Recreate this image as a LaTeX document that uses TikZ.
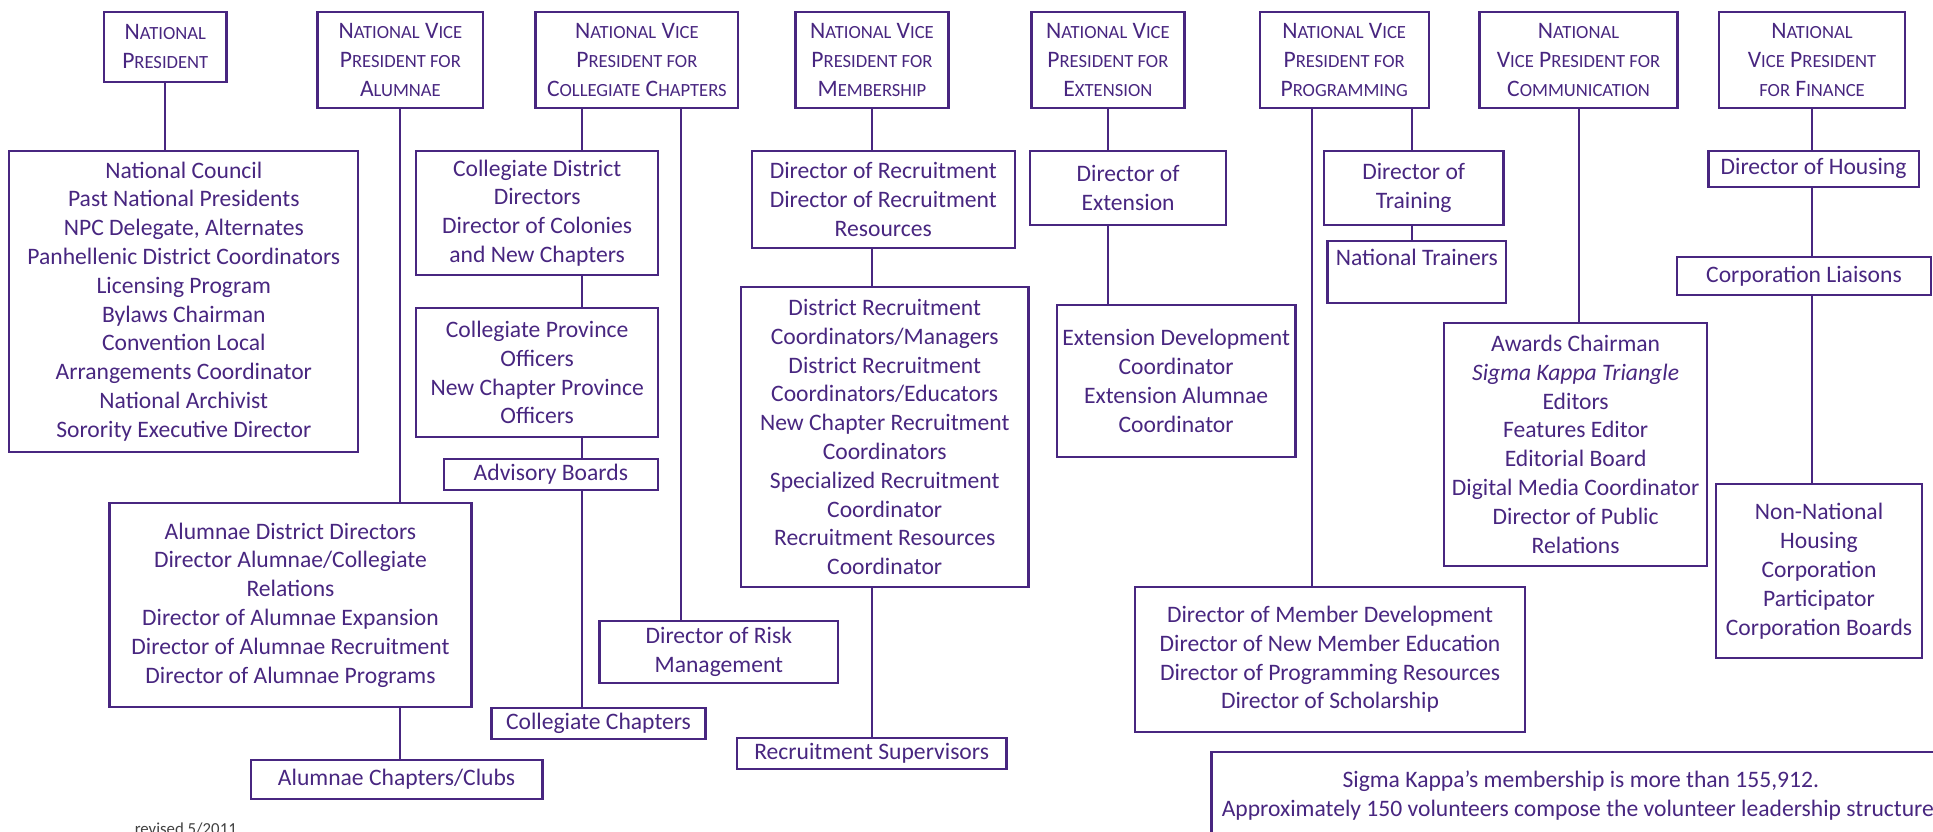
\documentclass[tikz,border=0pt]{standalone}
\usepackage{fontspec}
\setmainfont{Carlito}
\definecolor{skpurple}{RGB}{72,38,128}
\newcommand{\mysc}[1]{{\fontsize{18.6}{29.2}\selectfont #1}}
\tikzset{
  box/.style={draw=skpurple, line width=2.3pt, rectangle, inner sep=0pt, align=center,
    text=skpurple, font=\fontsize{23.6}{28.8}\selectfont},
  head/.style={box, font=\fontsize{23.6}{29.2}\selectfont},
  link/.style={draw=skpurple, line width=2pt},
}
\begin{document}
\begin{tikzpicture}[x=1pt,y=-1pt]
\useasboundingbox (0,0) rectangle (1933,832);
% header row
\node[head, minimum width=122.2, minimum height=70] (np) at (165.3,46.7) {N\mysc{ATIONAL}\\P\mysc{RESIDENT}};
\node[head, minimum width=165.8, minimum height=96.6] (vpa) at (400.4,60) {N\mysc{ATIONAL} V\mysc{ICE}\\P\mysc{RESIDENT FOR}\\A\mysc{LUMNAE}};
\node[head, minimum width=202.6, minimum height=96.6] (vpcc) at (636.9,60) {N\mysc{ATIONAL} V\mysc{ICE}\\P\mysc{RESIDENT FOR}\\C\mysc{OLLEGIATE} C\mysc{HAPTERS}};
\node[head, minimum width=153, minimum height=96.6] (vpm) at (872,60) {N\mysc{ATIONAL} V\mysc{ICE}\\P\mysc{RESIDENT FOR}\\M\mysc{EMBERSHIP}};
\node[head, minimum width=152.9, minimum height=96.6] (vpe) at (1107.9,60) {N\mysc{ATIONAL} V\mysc{ICE}\\P\mysc{RESIDENT FOR}\\E\mysc{XTENSION}};
\node[head, minimum width=168.9, minimum height=96.6] (vpp) at (1344.2,60) {N\mysc{ATIONAL} V\mysc{ICE}\\P\mysc{RESIDENT FOR}\\P\mysc{ROGRAMMING}};
\node[head, minimum width=197.9, minimum height=96.6] (vpc) at (1578.5,60) {N\mysc{ATIONAL}\\V\mysc{ICE} P\mysc{RESIDENT FOR}\\C\mysc{OMMUNICATION}};
\node[head, minimum width=185.7, minimum height=96.6] (vpf) at (1812,60) {N\mysc{ATIONAL}\\V\mysc{ICE} P\mysc{RESIDENT}\\\mysc{FOR} F\mysc{INANCE}};
% column boxes
\node[box, minimum width=349, minimum height=300.7] (council) at (183.8,301.35) {National Council\\Past National Presidents\\NPC Delegate, Alternates\\Panhellenic District Coordinators\\Licensing Program\\Bylaws Chairman\\Convention Local\\Arrangements Coordinator\\National Archivist\\Sorority Executive Director};
\node[box, minimum width=362.1, minimum height=203.4] (alum) at (290.45,605) {Alumnae District Directors\\Director Alumnae/Collegiate\\Relations\\Director of Alumnae Expansion\\Director of Alumnae Recruitment\\Director of Alumnae Programs};
\node[box, minimum width=291.7, minimum height=39] (acc) at (396.55,779.5) {Alumnae Chapters/Clubs};
\node[box, minimum width=241.7, minimum height=124] (cdd) at (537.15,213) {Collegiate District\\Directors\\Director of Colonies\\and New Chapters};
\node[box, minimum width=241.7, minimum height=128.4] (cpo) at (537.15,372.5) {Collegiate Province\\Officers\\New Chapter Province\\Officers};
\node[box, minimum width=214.3, minimum height=30.7] (adv) at (550.85,474.65) {Advisory Boards};
\node[box, minimum width=214.2, minimum height=31.3] (colch) at (598.5,723.35) {Collegiate Chapters};
\node[box, minimum width=238.7, minimum height=62.3] (risk) at (718.85,652.15) {Director of Risk\\Management};
\node[box, minimum width=262.9, minimum height=97.3] (dor) at (883.25,199.65) {Director of Recruitment\\Director of Recruitment\\Resources};
\node[box, minimum width=287.8, minimum height=300.6] (drc) at (884.7,437) {District Recruitment\\Coordinators/Managers\\District Recruitment\\Coordinators/Educators\\New Chapter Recruitment\\Coordinators\\Specialized Recruitment\\Coordinator\\Recruitment Resources\\Coordinator};
\node[box, minimum width=269.9, minimum height=31.6] (rs) at (871.65,753.5) {Recruitment Supervisors};
\node[box, minimum width=196.3, minimum height=74] (doe) at (1128.05,188) {Director of\\Extension};
\node[box, minimum width=238.8, minimum height=151.7] (edc) at (1176.1,380.85) {Extension Development\\Coordinator\\Extension Alumnae\\Coordinator};
\node[box, minimum width=179.4, minimum height=74] (dot) at (1413.7,188) {Director of\\Training};
\node[box, minimum width=178.8, minimum height=62.3] (nt) at (1416.9,272.15) {National Trainers\\\phantom{N}};
\node[box, minimum width=390, minimum height=145.6] (md) at (1330,659.5) {Director of Member Development\\Director of New Member Education\\Director of Programming Resources\\Director of Scholarship};
\node[box, minimum width=263.2, minimum height=243] (aw) at (1575.6,444.2) {Awards Chairman\\\textit{Sigma Kappa Triangle}\\Editors\\Features Editor\\Editorial Board\\Digital Media Coordinator\\Director of Public\\Relations};
\node[box, minimum width=210.3, minimum height=35.7] (doh) at (1813.55,168.85) {Director of Housing};
\node[box, minimum width=254, minimum height=38.3] (cl) at (1804,275.85) {Corporation Liaisons};
\node[box, minimum width=206, minimum height=174.3] (nn) at (1819,571.15) {Non-National\\Housing\\Corporation\\Participator\\Corporation Boards};
\node[box, minimum width=738.4, minimum height=86.1] (sk) at (1580.8,795.35) {Sigma Kappa’s membership is more than 155,912.\\Approximately 150 volunteers compose the volunteer leadership structure.};
\node[anchor=base west, inner sep=0pt, text=black!75, font=\fontsize{16.8}{18}\selectfont] (rev) at (134.6,834) {revised 5/2011};
% x positions of off-centre connectors
\coordinate (xcc1) at (582,0);
\coordinate (xcc2) at (680.5,0);
\coordinate (xpp1) at (1311.5,0);
\coordinate (xpp2) at (1411.5,0);
% connectors
\draw[link] (np.south) -- (np.south |- council.north);
\draw[link] (vpa.south) -- (vpa.south |- alum.north);
\draw[link] (vpa.south |- alum.south) -- (vpa.south |- acc.north);
\draw[link] (vpcc.south -| xcc1) -- (xcc1 |- cdd.north);
\draw[link] (xcc1 |- cdd.south) -- (xcc1 |- cpo.north);
\draw[link] (xcc1 |- cpo.south) -- (xcc1 |- adv.north);
\draw[link] (xcc1 |- adv.south) -- (xcc1 |- colch.north);
\draw[link] (vpcc.south -| xcc2) -- (xcc2 |- risk.north);
\draw[link] (vpm.south) -- (vpm.south |- dor.north);
\draw[link] (vpm.south |- dor.south) -- (vpm.south |- drc.north);
\draw[link] (vpm.south |- drc.south) -- (vpm.south |- rs.north);
\draw[link] (vpe.south) -- (vpe.south |- doe.north);
\draw[link] (vpe.south |- doe.south) -- (vpe.south |- edc.north);
\draw[link] (vpp.south -| xpp1) -- (xpp1 |- md.north);
\draw[link] (vpp.south -| xpp2) -- (xpp2 |- dot.north);
\draw[link] (xpp2 |- dot.south) -- (xpp2 |- nt.north);
\draw[link] (vpc.south) -- (vpc.south |- aw.north);
\draw[link] (vpf.south) -- (vpf.south |- doh.north);
\draw[link] (vpf.south |- doh.south) -- (vpf.south |- cl.north);
\draw[link] (vpf.south |- cl.south) -- (vpf.south |- nn.north);
\end{tikzpicture}
\end{document}
